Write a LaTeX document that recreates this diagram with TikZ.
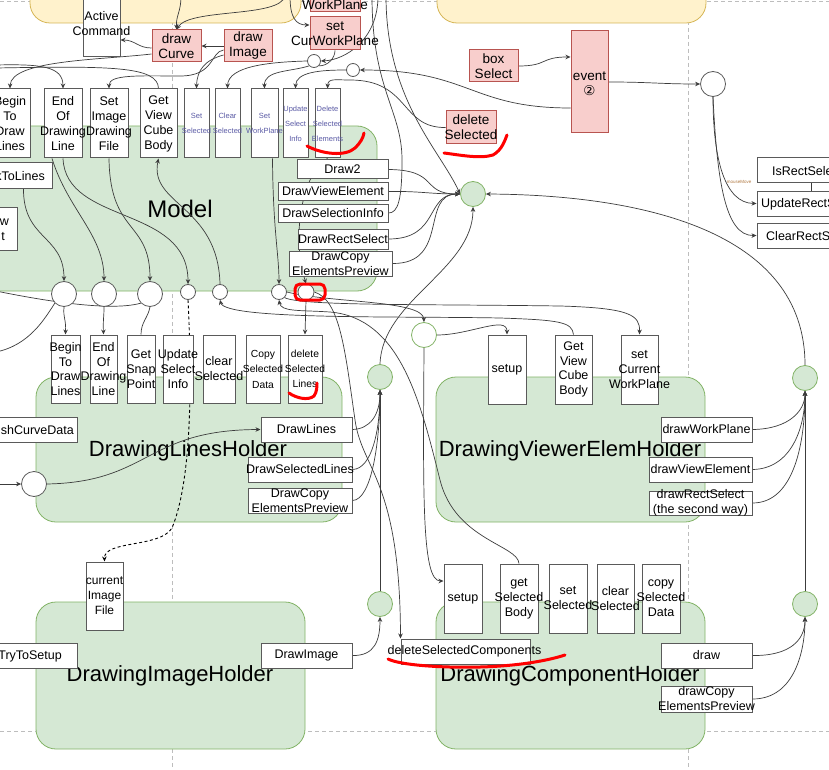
\documentclass[tikz,border=0pt]{standalone}
\usepackage{fontspec}
\setmainfont{Liberation Sans}
\newfontfamily\djv{DejaVu Sans}
\usetikzlibrary{arrows.meta,fit,calc}
\definecolor{pinkF}{HTML}{F8CECC}
\definecolor{pinkD}{HTML}{B85450}
\definecolor{greenF}{HTML}{D5E8D4}
\definecolor{greenD}{HTML}{82B366}
\definecolor{yelF}{HTML}{FFF2CC}
\definecolor{yelD}{HTML}{D6B656}
\definecolor{bxc}{HTML}{5A5A5A}
\definecolor{lnc}{HTML}{3C3C3C}
\definecolor{dgray}{HTML}{BDBDBD}
\definecolor{sb}{HTML}{5A5AA5}
\definecolor{mmc}{HTML}{B07840}
\pgfdeclarelayer{bg}
\pgfdeclarelayer{edges}
\pgfdeclarelayer{fg}
\pgfsetlayers{bg,edges,main,fg}
\newcommand\FS[2]{\fontsize{#1}{#2}\selectfont}
\newcommand\Bx[8]{\node[#1,fit={(#3,#4) (#5,#6)}] (#2) {};\node[txt,#7] (#2-t) at (#2.center) {#8};}
\tikzset{
 box/.style={draw=bxc, fill=white, line width=1pt, inner sep=0pt},
 pbox/.style={draw=pinkD, fill=pinkF, line width=1pt, inner sep=0pt},
 gcont/.style={draw=greenD, fill=greenF, line width=0.8pt, rounded corners=20pt, inner sep=0pt},
 ycont/.style={draw=yelD, fill=yelF, line width=0.8pt, rounded corners=20pt, inner sep=0pt},
 txt/.style={inner sep=0pt, align=center, font=\FS{12.5}{15}},
 sm/.style={font=\FS{7.5}{15}, text=sb},
 circW/.style={circle, draw=bxc, fill=white, line width=0.8pt, inner sep=0pt},
 circG/.style={circle, draw=greenD, fill=greenF, line width=0.8pt, inner sep=0pt},
 circWG/.style={circle, draw=greenD, fill=white, line width=0.8pt, inner sep=0pt},
 conn/.style={draw=lnc, line width=0.7pt},
 arr/.style={conn, -{Stealth[length=5pt,width=4.5pt]}},
 dline/.style={draw=dgray, line width=0.8pt, dash pattern=on 4pt off 3pt},
 redmark/.style={draw=red, line width=3pt, line cap=round, line join=round},
 big/.style={inner sep=0pt, font=\FS{22}{26}},
}
\begin{document}
\begin{tikzpicture}[x=1pt,y=-1pt]
\useasboundingbox (0,0) rectangle (829,770);
\begin{pgfonlayer}{bg}
\fill[white] (0,0) rectangle (829,770);
\draw[dline] (0,1) -- (829,1);
\draw[dline] (0,731) -- (829,731);
\draw[dline] (172,0) -- (172,770);
\draw[dline] (688,0) -- (688,770);
\node[ycont,fit={(30,-60) (301,23)}] (Y1) {};
\node[ycont,fit={(437,-60) (706,23)}] (Y2) {};
\node[gcont,fit={(-60,126) (377,291)}] (Gm) {};
\node[gcont,fit={(36,377) (342,522)}] (Gl) {};
\node[gcont,fit={(436,377) (705,522)}] (Gv) {};
\node[gcont,fit={(36,602) (305,749)}] (Gi) {};
\node[gcont,fit={(436,602) (705,749)}] (Gc) {};
\node[big,font=\FS{24}{28}] (Lm) at (180,209) {Model};
\node[big] (Ll) at (188,451) {DrawingLinesHolder};
\node[big] (Lv) at (570,451) {DrawingViewerElemHolder};
\node[big] (Li) at (170,676) {DrawingImageHolder};
\node[big] (Lc) at (570,676) {DrawingComponentHolder};
\end{pgfonlayer}

% top
\Bx{box}{act}{83}{-30}{120}{57}{yshift=-10pt}{Active\\Command}
\Bx{pbox}{wpp}{310}{-30}{360}{12}{font=\FS{13.5}{15},yshift=-14pt}{WorkPlane}
\Bx{pbox}{dCurve}{152}{30}{201}{62}{font=\FS{13.5}{15}}{draw\\Curve}
\Bx{pbox}{dImg}{224}{30}{272}{62}{font=\FS{13.5}{15}}{draw\\Image}
\Bx{pbox}{setCW}{310}{17}{360}{50}{font=\FS{13.5}{15}}{set\\CurWorkPlane}
\Bx{pbox}{boxSel}{469}{50}{518}{82}{font=\FS{13.5}{15}}{box\\Select}
\Bx{pbox}{delSel}{446}{111}{496}{144}{font=\FS{13.5}{15}}{delete\\Selected}
\Bx{pbox}{event}{571}{31}{608}{133}{font=\FS{13.5}{15},yshift=-1.5pt}{event\\{\djv ②}}
% top row
\Bx{box}{T1}{-10}{89}{30}{158}{}{Begin\\To\\Draw\\Lines}
\Bx{box}{T2}{44}{89}{82}{158}{}{End\\Of\\Drawing\\Line}
\Bx{box}{T3}{90}{89}{128}{158}{}{Set\\Image\\Drawing\\File}
\Bx{box}{T4}{140}{89}{177}{158}{}{Get\\View\\Cube\\Body}
\Bx{box}{T5}{184}{89}{209}{158}{sm}{Set\\Selected}
\Bx{box}{T6}{215}{89}{240}{158}{sm}{Clear\\Selected}
\Bx{box}{T7}{251}{89}{278}{158}{sm}{Set\\WorkPlane}
\Bx{box}{T8}{283}{89}{308}{158}{sm}{Update\\Select\\Info}
\Bx{box}{T9}{315}{89}{340}{158}{sm}{Delete\\Selected\\Elements}
% model right
\Bx{box}{draw2}{297}{160}{388}{179}{}{Draw2}
\Bx{box}{dve}{278}{183}{388}{200}{}{DrawViewElement}
\Bx{box}{dsi}{278}{204}{388}{222}{}{DrawSelectionInfo}
\Bx{box}{drs}{298}{229}{388}{249}{}{DrawRectSelect}
\Bx{box}{dcp}{289}{251}{392}{276}{}{DrawCopy\\ElementsPreview}
% model left
\Bx{box}{ktl}{-60}{163}{52}{188}{}{}
\node[txt,anchor=east] (ktl-x) at (45,176) {kToLines};
\Bx{box}{wpt}{-60}{207}{17}{250}{}{}
\node[txt] (wpt-a) at (4.5,222) {w};
\node[txt] (wpt-b) at (3,237) {t};
% second row
\Bx{box}{b1}{51}{335}{80}{403}{font=\FS{12.5}{14.5}}{Begin\\To\\Draw\\Lines}
\Bx{box}{b2}{90}{335}{117}{403}{font=\FS{12.5}{14.5}}{End\\Of\\Drawing\\Line}
\Bx{box}{b3}{127}{335}{155}{403}{}{Get\\Snap\\Point}
\Bx{box}{b4}{163}{335}{193}{403}{}{Update\\Select\\Info}
\Bx{box}{b5}{203}{335}{235}{403}{}{clear\\Selected}
\Bx{box}{b6}{246}{335}{280}{403}{font=\FS{10.3}{15.5}}{Copy\\Selected\\Data}
\Bx{box}{b7}{288}{335}{322}{403}{font=\FS{10.3}{15}}{delete\\Selected\\Lines}
% viewer elem holder
\Bx{box}{v1}{488}{335}{526}{404}{}{setup}
\Bx{box}{v2}{555}{335}{592}{404}{font=\FS{12.5}{14.5}}{Get\\View\\Cube\\Body}
\Bx{box}{v3}{621}{335}{658}{404}{}{set\\Current\\WorkPlane}
\Bx{box}{vw}{661}{417}{752}{442}{}{drawWorkPlane}
\Bx{box}{vv}{649}{457}{752}{482}{}{drawViewElement}
\Bx{box}{vr}{649}{491}{752}{515}{}{drawRectSelect\\(the second way)}
% lines holder
\Bx{box}{lsc}{-60}{417}{77}{442}{}{}
\node[txt,anchor=east] (lsc-x) at (74,430) {shCurveData};
\Bx{box}{ldl}{261}{417}{352}{442}{}{DrawLines}
\Bx{box}{lds}{248}{457}{352}{482}{}{DrawSelectedLines}
\Bx{box}{ldc}{248}{488}{352}{513}{}{DrawCopy\\ElementsPreview}
% image holder
\Bx{box}{cif}{86}{562}{123}{630}{font=\FS{12}{15}}{current\\Image\\File}
\Bx{box}{tts}{-60}{643}{77}{668}{}{}
\node[txt,anchor=east] (tts-x) at (62,656) {TryToSetup};
\Bx{box}{dim}{261}{643}{352}{668}{}{DrawImage}
% component holder
\Bx{box}{c1}{444}{564}{482}{633}{}{setup}
\Bx{box}{c2}{500}{564}{538}{633}{}{get\\Selected\\Body}
\Bx{box}{c3}{549}{564}{587}{633}{}{set\\Selected}
\Bx{box}{c4}{597}{564}{634}{633}{}{clear\\Selected}
\Bx{box}{c5}{642}{564}{680}{633}{}{copy\\Selected\\Data}
\Bx{box}{dsc}{401}{639}{530}{664}{xshift=-1pt}{deleteSelectedComponents}
\Bx{box}{cd}{661}{643}{752}{668}{}{draw}
\Bx{box}{cdc}{661}{686}{752}{712}{}{drawCopy\\ElementsPreview}
% right
\Bx{box}{irs}{757}{158}{866}{183}{}{}
\node[txt,anchor=west] (irs-x) at (772,171) {IsRectSele};
\Bx{box}{urs}{757}{191}{866}{216}{}{}
\node[txt,anchor=west] (urs-x) at (761,204) {UpdateRectS};
\Bx{box}{crs}{757}{223}{866}{248}{}{}
\node[txt,anchor=west] (crs-x) at (766,236) {ClearRectS};
\node[inner sep=0pt, font=\FS{4.5}{5}, text=mmc] (mm) at (739,182) {mouseMove};
% circles
\node[circW,minimum size=13pt] (w1) at (314,61) {};
\node[circW,minimum size=13pt] (w2) at (353,70) {};
\node[circW,minimum size=25pt] (wE) at (713,84) {};
\node[circG,minimum size=25pt] (gM) at (473,194) {};
\node[circW,minimum size=25pt] (cA) at (64,294) {};
\node[circW,minimum size=25pt] (cB) at (104,294) {};
\node[circW,minimum size=25pt] (cC) at (150,294) {};
\node[circW,minimum size=15pt] (cD) at (188,292) {};
\node[circW,minimum size=15pt] (cE) at (220,292) {};
\node[circW,minimum size=15pt] (cF) at (279,292) {};
\node[circW,minimum size=16pt] (cR) at (306,292) {};
\node[circG,minimum size=25pt] (gL) at (380,377) {};
\node[circWG,minimum size=25pt] (wV) at (424,335) {};
\node[circG,minimum size=25pt] (gV) at (805,378) {};
\node[circG,minimum size=25pt] (gI) at (380,604) {};
\node[circG,minimum size=25pt] (gC) at (805,604) {};
\node[circW,minimum size=25pt] (wL) at (34,484) {};

\begin{pgfonlayer}{edges}
\coordinate (t1) at (181,-4);
\coordinate (t2) at (285,-4);
\coordinate (t3) at (290,-4);
\coordinate (t4) at (372,-4);
\coordinate (t5) at (378,-4);
\coordinate (t6) at (386,-4);
\coordinate (l1) at (-4,65);
\coordinate (l2) at (-4,68);
\coordinate (l3) at (-4,291);
\coordinate (l4) at (-4,352);
\coordinate (l5) at (-4,484);
\draw[arr] (t1) .. controls (181,12) and (176,15) .. (dCurve.north);
\draw[arr] (t2) .. controls (280,18) and (190,8) .. (dCurve.north);
\draw[arr] ([yshift=-2pt]dCurve.west) .. controls (138,48) and (135,40) .. ([yshift=-26.5pt]act.east);
\draw[arr] (dImg.west) -- (dCurve.east);
\draw[arr] ([yshift=-8pt]dCurve.west) .. controls (100,60) and (11,60) .. (T1.north);
\draw[arr] (l1) .. controls (40,64) and (63,66) .. (T2.north);
\draw[conn] (l2) .. controls (110,66) and (158,66) .. (T4.north);
\draw[arr] ([yshift=-4pt]dImg.west) .. controls (210,52) and (215,76) .. (180,76) .. controls (140,76) and (109,74) .. (T3.north);
\draw[arr] ([yshift=-9pt]dImg.west) .. controls (205,60) and (197,70) .. (T5.north);
\draw[arr] (w1.west) .. controls (270,62) and (228,66) .. (T6.north);
\draw[arr] (w1.south west) .. controls (290,72) and (264,70) .. (T7.north);
\draw[arr] (w2.west) .. controls (320,70) and (296,72) .. (T8.north);
\draw[arr] (delSel.west) .. controls (400,128) and (410,80) .. (350,80) .. controls (335,80) and (328,78) .. (T9.north);
\draw[arr] ([yshift=-26pt]event.west) .. controls (470,108) and (470,70) .. (w2.east);
\draw[arr] (boxSel.east) .. controls (548,66) and (540,57) .. ([yshift=25pt]event.west);
\draw[arr] (event.east) .. controls (650,82) and (660,84) .. (wE.west);
\draw[arr] (t3) .. controls (290,18) and (296,25) .. ([yshift=8.5pt]setCW.west);
\draw[arr] (t5) .. controls (378,40) and (345,60) .. (w1.east);
\draw[conn] (setCW.south) .. controls (335,58) and (328,66) .. (w1.south east);
\draw[conn] (t4) .. controls (372,90) and (402,110) .. (402,160) .. controls (402,200) and (398,213) .. (dsi.east);
\draw[arr] (t6) .. controls (386,100) and (440,150) .. (gM.west);
\draw[arr] (draw2.east) .. controls (440,170) and (420,194) .. (gM.west);
\draw[arr] (dve.east) .. controls (420,191) and (430,194) .. (gM.west);
\draw[arr] (drs.east) .. controls (440,239) and (425,194) .. (gM.west);
\draw[arr] (dcp.east) .. controls (450,264) and (420,194) .. (gM.west);
\draw[arr] (gV.north) .. controls (805,230) and (640,195) .. (gM.east);
\draw[arr] (gL.north) .. controls (382,300) and (473,270) .. (gM.south);
\draw[arr] (gI.north) -- (gL.south);
\draw[arr] (gC.north) -- (gV.south);
\draw[arr] (dim.east) .. controls (375,656) and (380,640) .. (gI.south);
\draw[arr] (ldl.east) .. controls (370,429) and (380,415) .. (gL.south);
\draw[arr] (lds.east) .. controls (372,469) and (380,430) .. (gL.south);
\draw[arr] (ldc.east) .. controls (372,500) and (380,440) .. (gL.south);
\draw[arr] (vw.east) .. controls (790,429) and (805,410) .. (gV.south);
\draw[arr] (vv.east) .. controls (790,469) and (805,430) .. (gV.south);
\draw[arr] (vr.east) .. controls (795,503) and (805,440) .. (gV.south);
\draw[arr] (cd.east) .. controls (790,656) and (805,640) .. (gC.south);
\draw[arr] (cdc.east) .. controls (795,699) and (805,650) .. (gC.south);
\draw[arr] (wE.south) .. controls (713,160) and (725,203) .. (urs.west);
\draw[arr] (wE.south) .. controls (717,180) and (725,236) .. (crs.west);
\draw[conn] (irs.south) -- (urs.north);
\draw[arr] ($(ktl.south east)+(-29,0)$) .. controls (23,240) and (64,235) .. (cA.north);
\draw[arr] ([xshift=-11pt]T2.south) .. controls (68,210) and (104,235) .. (cB.north);
\draw[arr] (T2.south) .. controls (66,225) and (188,205) .. (cD.north);
\draw[arr] (T3.south) .. controls (110,235) and (150,220) .. (cC.north);
\draw[arr] (cE.north) .. controls (218,205) and (149,205) .. (T4.south);
\draw[arr] ([xshift=8pt]T7.south) .. controls (273,230) and (279,255) .. (cF.north);
\draw[arr] (T9.south) .. controls (305,170) and (290,230) .. (cR.north);
\draw[conn] (l3) .. controls (40,300) and (110,312) .. (cC.south west);
\draw[conn] (l4) .. controls (30,345) and (45,318) .. (cA.south west);
\draw[arr] (cA.south) .. controls (63,318) and (66,318) .. (b1.north);
\draw[arr] (cB.south) .. controls (104,318) and (103,318) .. (b2.north);
\draw[conn] (cC.south) .. controls (148,318) and (141,322) .. (b3.north);
\draw[arr, draw=black, line width=0.9pt, dash pattern=on 3pt off 2.5pt] (cD.south) .. controls (192,380) and (192,480) .. (172,528) .. controls (160,548) and (104,540) .. (cif.north);
\draw[arr] (v2.north) .. controls (572,322) and (560,320) .. (500,318) .. controls (400,316) and (225,320) .. (cE.south);
\draw[arr] (c2.north) .. controls (518,545) and (455,540) .. (440,480) .. controls (420,400) and (400,318) .. (330,312) .. controls (300,310) and (281,312) .. (cF.south);
\draw[arr] (cF.south east) .. controls (300,306) and (420,304) .. (560,306) .. controls (630,308) and (640,315) .. (v3.north);
\draw[arr] (cF.east) .. controls (330,303) and (423,300) .. (wV.north);
\draw[arr] (wV.east) .. controls (470,335) and (507,315) .. (v1.north);
\draw[arr] (wV.south) .. controls (423,500) and (422,581) .. ([yshift=17.5pt]c1.west);
\draw[arr] (cR.south) -- (b7.north);
\draw[arr] (cR.east) .. controls (340,300) and (345,350) .. (355,420) .. controls (362,470) and (400,480) .. (dsc.north west);
\draw[arr] (l5) -- (wL.west);
\draw[arr] (wL.east) .. controls (150,482) and (145,430) .. (ldl.west);
\end{pgfonlayer}

\begin{pgfonlayer}{fg}
\draw[redmark] (307,146) .. controls (322,154) and (345,157) .. (355,148) .. controls (361,142) and (363,138) .. (364,133);
\draw[redmark] (444,153) .. controls (460,155) and (480,159) .. (493,155) .. controls (502,150) and (505,140) .. (507,135);
\draw[redmark, rounded corners=5pt] (295,284) rectangle (325,300);
\draw[redmark] (289,393) .. controls (296,398) and (308,401) .. (314,396) .. controls (317,392) and (317,386) .. (317,383);
\draw[redmark] (388,659) .. controls (400,665) and (440,668) .. (480,667) .. controls (520,666) and (550,660) .. (565,655);
\end{pgfonlayer}
\end{tikzpicture}
\end{document}
